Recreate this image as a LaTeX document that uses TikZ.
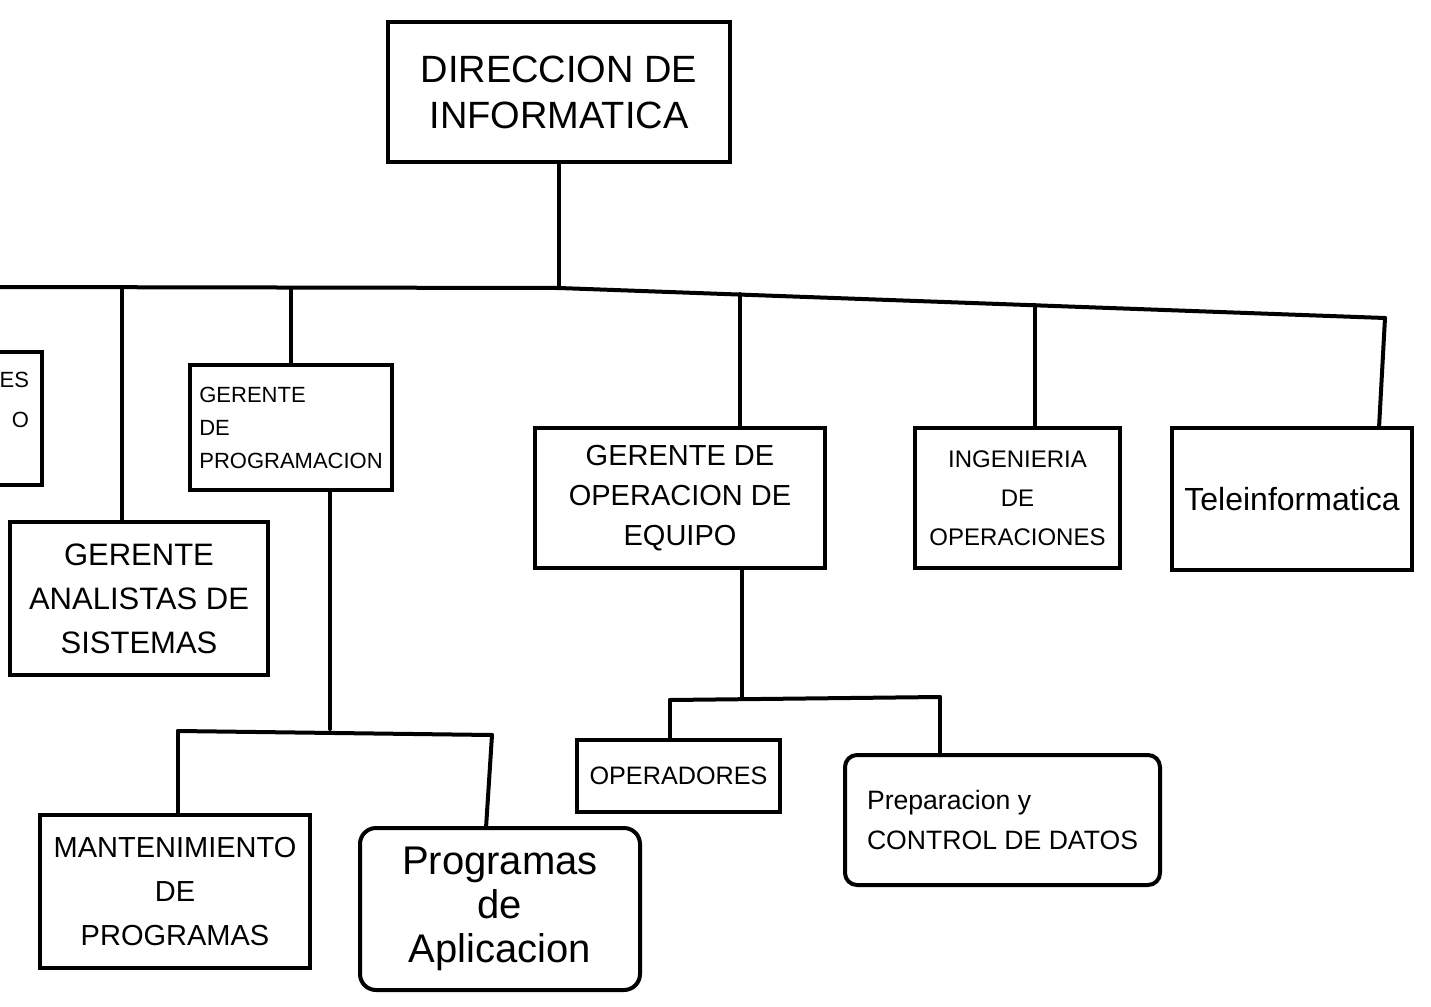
\documentclass[tikz,border=0pt]{standalone}
\usepackage{fontspec}
\setmainfont{Liberation Sans}
\begin{document}
\begin{tikzpicture}[x=0.5pt,y=-0.5pt,
  box/.style={draw, line width=2pt, rectangle, inner sep=0pt, align=center},
  size/.style 2 args={minimum width=#1, minimum height=#2},
  link/.style={line width=2pt, line cap=round},
  fs/.style n args={2}{font=\fontsize{#1}{#2}\selectfont}]
\useasboundingbox (0,0) rectangle (1431,1007);
\clip (0,0) rectangle (1431,1007);

% top of the chart
\node[box, size={171pt}{70pt}, fs={19}{23}] (dir) at (559,92) {DIRECCION DE\\INFORMATICA};

% second level
\node[box, size={81pt}{66.5pt}] (gl) at (-39,418.5) {};
\node[fs={11}{20}, anchor=east, align=right] (glt) at (36,400) {ES\\O};
\node[box, size={101pt}{62.5pt}, fs={11}{16.5}, align=left] (prog) at (291,427.5) {GERENTE\\DE\\PROGRAMACION};
\node[box, size={129pt}{76.5pt}, fs={15.5}{22}] (anal) at (139,598.5) {GERENTE\\ANALISTAS DE\\SISTEMAS};
\node[box, size={145pt}{70pt}, fs={14.5}{20}] (oper) at (680,498) {GERENTE DE\\OPERACION DE\\EQUIPO};
\node[box, size={102.5pt}{70pt}, fs={12}{19.5}] (ing) at (1017.5,498) {INGENIERIA\\DE\\OPERACIONES};
\node[box, size={120pt}{71pt}, fs={16}{20}] (tele) at (1292,499) {Teleinformatica};

% third level
\node[box, size={135pt}{76.5pt}, fs={14.5}{22}] (mant) at (175,891.5) {MANTENIMIENTO\\DE\\PROGRAMAS};
\node[box, size={140pt}{81pt}, rounded corners=8pt, fs={20}{22}] (apl) at (500,909) {Programas\\de\\Aplicacion};
\node[box, size={101.5pt}{36pt}, fs={12.6}{16}] (opd) at (678.5,776) {OPERADORES};
\node[box, size={157.5pt}{65pt}, rounded corners=6pt, fs={13.3}{20}, align=left] (prep) at (1002.5,820) {Preparacion y\\CONTROL DE DATOS};

% main bus
\coordinate (bw) at (0,287);
\coordinate (jc) at (559,288);
\coordinate (be) at (1385,318);
\coordinate (d1) at (122,287);
\coordinate (d2) at (291,288);
\coordinate (d3) at (740,294);
\coordinate (d4) at (1035,305);
\draw[link] (dir.south) -- (jc);
\draw[link] (bw) -- (jc) -- (be);
\draw[link] (d1) -- (d1 |- anal.north);
\draw[link] (d2) -- (prog.north);
\draw[link] (d3) -- (d3 |- oper.north);
\draw[link] (d4) -- (d4 |- ing.north);
\draw[link] (be) -- (1379,428);

% programming branch
\coordinate (pj) at (330,729);
\coordinate (pa) at (178,731);
\coordinate (pb) at (492,735);
\draw[link] (pj |- prog.south) -- (pj);
\draw[link] (pa) -- (pb);
\draw[link] (pa) -- (pa |- mant.north);
\draw[link] (pb) -- (486,828);

% operations branch
\coordinate (oj) at (742,698);
\coordinate (oa) at (670,700);
\coordinate (ob) at (940,697);
\draw[link] (oj |- oper.south) -- (oj);
\draw[link] (oa) -- (ob);
\draw[link] (oa) -- (oa |- opd.north);
\draw[link] (ob) -- (ob |- prep.north);
\end{tikzpicture}
\end{document}
